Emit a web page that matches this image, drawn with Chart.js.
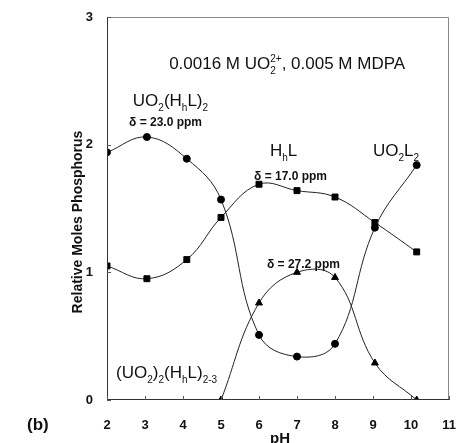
<!DOCTYPE html>
<html><head><meta charset="utf-8">
<style>html,body{margin:0;padding:0;background:#fff;}#wrap{width:456px;height:443px;}</style>
<script src="https://cdn.jsdelivr.net/npm/chart.js@4.4.1/dist/chart.umd.min.js"></script>
</head><body><div id="wrap"><canvas id="c" width="456" height="443"></canvas></div>
<script>
// ---- data ----
const pHValues = [2.0, 3.05, 4.1, 5.0, 6.0, 7.0, 8.0, 9.05, 10.15];
const uranylSeries = [1.94, 2.06, 1.89, 1.57, 0.51, 0.34, 0.44, 1.35, 1.84];   // circles
const ligandSeries = [1.05, 0.95, 1.10, 1.43, 1.69, 1.64, 1.59, 1.39, 1.16];   // squares
const dimerPH = [5.0, 6.0, 7.0, 8.0, 9.05, 10.15];
const dimerSeries = [0, 0.76, 1.00, 0.96, 0.29, 0];                            // triangles
const xTickValues = [2, 3, 4, 5, 6, 7, 8, 9, 10, 11];
const yTickValues = [0, 1, 2, 3];
const xAxisTitle = 'pH';
const yAxisTitle = 'Relative Moles Phosphorus';
const panelLabel = '(b)';

// rich-text labels: segments [text, mode]; mode '', 'sub', 'sup', or 'stack' (sub, sup)
const annotations = [
  {x: 6.74, y: 2.64, align: 'center', size: 17, weight: 'normal',
   segs: [['0.0016 M UO', ''], [['2', '2+'], 'stack'], [', 0.005 M MDPA', '']]},
  {x: 2.68, y: 2.35, align: 'left', size: 17, weight: 'normal',
   segs: [['UO', ''], ['2', 'sub'], ['(H', ''], ['h', 'sub'], ['L)', ''], ['2', 'sub']]},
  {x: 2.58, y: 2.18, align: 'left', size: 12, weight: 'bold', segs: [['δ = 23.0 ppm', '']]},
  {x: 6.29, y: 1.96, align: 'left', size: 17, weight: 'normal',
   segs: [['H', ''], ['h', 'sub'], ['L', '']]},
  {x: 9.0, y: 1.96, align: 'left', size: 17, weight: 'normal',
   segs: [['UO', ''], ['2', 'sub'], ['L', ''], ['2', 'sub']]},
  {x: 5.87, y: 1.76, align: 'left', size: 12, weight: 'bold', segs: [['δ = 17.0 ppm', '']]},
  {x: 6.21, y: 1.07, align: 'left', size: 12, weight: 'bold', segs: [['δ = 27.2 ppm', '']]},
  {x: 2.24, y: 0.22, align: 'left', size: 17, weight: 'normal',
   segs: [['(UO', ''], ['2', 'sub'], [')', ''], ['2', 'sub'], ['(H', ''], ['h', 'sub'], ['L)', ''], ['2-3', 'sub']]}
];

const FONT = '"Liberation Sans", Arial, Helvetica, sans-serif';
const INK = '#111';

function toPoints(xs, ys) { return xs.map((x, i) => ({x: x, y: ys[i]})); }

function segWidth(ctx, seg, size, weight) {
  const [t, mode] = seg;
  if (mode === '') { ctx.font = weight + ' ' + size + 'px ' + FONT; return ctx.measureText(t).width; }
  const s = Math.round(size * 0.6);
  ctx.font = weight + ' ' + s + 'px ' + FONT;
  if (mode === 'stack') return Math.max(ctx.measureText(t[0]).width, ctx.measureText(t[1]).width);
  return ctx.measureText(t).width;
}

function drawRich(ctx, x, yMid, segs, size, weight, align) {
  let total = 0;
  segs.forEach(s => total += segWidth(ctx, s, size, weight));
  let cx = align === 'center' ? x - total / 2 : x;
  const base = yMid + size * 0.36;
  ctx.textAlign = 'left';
  ctx.textBaseline = 'alphabetic';
  ctx.fillStyle = INK;
  segs.forEach(seg => {
    const [t, mode] = seg;
    const w = segWidth(ctx, seg, size, weight);
    if (mode === '') ctx.fillText(t, cx, base);
    else if (mode === 'sub') ctx.fillText(t, cx, base + size * 0.28);
    else if (mode === 'sup') ctx.fillText(t, cx, base - size * 0.42);
    else { ctx.fillText(t[0], cx, base + size * 0.28); ctx.fillText(t[1], cx, base - size * 0.42); }
    cx += w;
  });
}

const decor = {
  id: 'decor',
  afterDraw(chart) {
    const ctx = chart.ctx, a = chart.chartArea, xs = chart.scales.x, ys = chart.scales.y;
    ctx.save();
    // frame
    ctx.lineWidth = 1;
    ctx.strokeStyle = '#888';
    ctx.beginPath();
    ctx.moveTo(a.left, a.top + 0.5); ctx.lineTo(a.right - 0.5, a.top + 0.5); ctx.lineTo(a.right - 0.5, a.bottom);
    ctx.stroke();
    ctx.strokeStyle = '#333';
    ctx.beginPath();
    ctx.moveTo(a.left + 0.5, a.top); ctx.lineTo(a.left + 0.5, a.bottom - 0.5); ctx.lineTo(a.right, a.bottom - 0.5);
    ctx.stroke();
    // inner tick marks
    ctx.strokeStyle = '#555';
    ctx.beginPath();
    xTickValues.forEach(v => { const px = Math.round(xs.getPixelForValue(v)) + 0.5; ctx.moveTo(px, a.bottom); ctx.lineTo(px, a.bottom - 4); });
    yTickValues.forEach(v => { const py = Math.round(ys.getPixelForValue(v)) + 0.5; ctx.moveTo(a.left, py); ctx.lineTo(a.left + 4, py); });
    ctx.stroke();
    // annotations
    annotations.forEach(an => drawRich(ctx, xs.getPixelForValue(an.x), ys.getPixelForValue(an.y), an.segs, an.size, an.weight, an.align));
    // axis titles
    ctx.fillStyle = INK;
    ctx.font = 'bold 15px ' + FONT;
    ctx.textAlign = 'center'; ctx.textBaseline = 'alphabetic';
    ctx.fillText(xAxisTitle, 280, 443);
    ctx.save();
    ctx.translate(78, 222);
    ctx.rotate(-Math.PI / 2);
    ctx.textBaseline = 'middle';
    ctx.font = 'bold 14px ' + FONT;
    ctx.fillText(yAxisTitle, 0, 0);
    ctx.restore();
    ctx.font = 'bold 17px ' + FONT;
    ctx.textAlign = 'left'; ctx.textBaseline = 'middle';
    ctx.fillText(panelLabel, 27, 425);
    ctx.restore();
  }
};

const common = {showLine: true, tension: 0.4, borderColor: '#222', borderWidth: 1,
  backgroundColor: '#000', pointBorderColor: '#000', pointBackgroundColor: '#000', fill: false};

new Chart(document.getElementById('c'), {
  type: 'scatter',
  data: {
    datasets: [
      Object.assign({label: 'UO2 complexes', data: toPoints(pHValues, uranylSeries), pointStyle: 'circle', pointRadius: 3.5}, common),
      Object.assign({label: 'HhL', data: toPoints(pHValues, ligandSeries), pointStyle: 'rect', pointRadius: 4.2}, common),
      Object.assign({label: 'dimer', data: toPoints(dimerPH, dimerSeries), pointStyle: 'triangle', pointRadius: 4}, common)
    ]
  },
  options: {
    responsive: false, animation: false, devicePixelRatio: 1,
    layout: {padding: {top: 17, right: 7, left: 0, bottom: 0}},
    plugins: {legend: {display: false}, tooltip: {enabled: false}},
    scales: {
      x: {type: 'linear', min: 2, max: 11,
        afterBuildTicks: s => { s.ticks = xTickValues.map(v => ({value: v})); },
        afterFit: s => { s.height = 43; s.paddingLeft = 0; s.paddingRight = 0; },
        grid: {display: false}, border: {display: false},
        ticks: {padding: 10, color: INK, font: {family: FONT, size: 13, weight: 'bold'}, maxRotation: 0, autoSkip: false}},
      y: {type: 'linear', min: 0, max: 3,
        afterBuildTicks: s => { s.ticks = yTickValues.map(v => ({value: v})); },
        afterFit: s => { s.width = 107; s.paddingTop = 0; s.paddingBottom = 0; },
        grid: {display: false}, border: {display: false},
        ticks: {padding: 6, color: INK, font: {family: FONT, size: 13, weight: 'bold'}}}
    }
  },
  plugins: [decor]
});
</script></body></html>
